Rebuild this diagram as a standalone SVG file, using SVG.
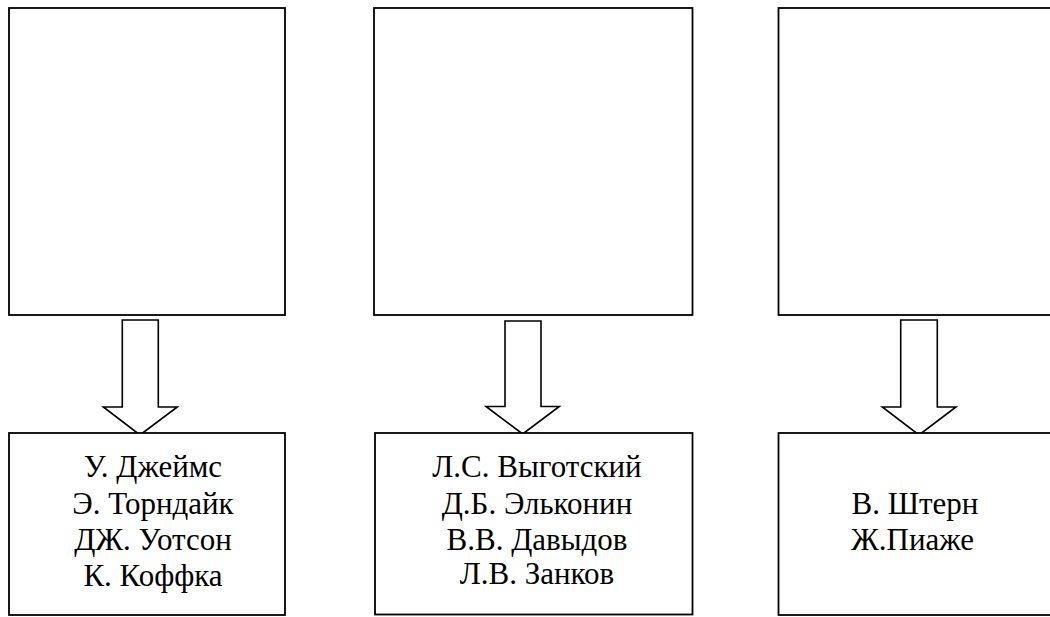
<svg xmlns="http://www.w3.org/2000/svg" width="1050" height="617" viewBox="0 0 1050 617">
<style>
.box{fill:#fff;stroke:#000;stroke-width:1.8}
.arr{fill:#fff;stroke:#000;stroke-width:1.6;stroke-linejoin:miter}
.t{font-family:"Liberation Serif","Times New Roman",serif;font-size:31px;fill:#000}
.c{text-anchor:middle}
</style>
<rect width="1050" height="617" fill="#fff"/>
<g id="top1"><rect class="box" x="9" y="8" width="276" height="307"/></g>
<g id="top2"><rect class="box" x="374" y="8" width="318.5" height="307"/></g>
<g id="top3"><rect class="box" x="778.5" y="8" width="290" height="307"/></g>
<g id="connectors">
<path class="arr" d="M122.3 320 H158.3 V407 H177.3 L140 435 L103.3 407 H122.3 Z"/>
<path class="arr" d="M505 321 H541 V406.5 H559.3 L522.7 434 L486 406.5 H505 Z"/>
<path class="arr" d="M900.7 320 H937.3 V407 H956 L919 435 L882.3 407 H900.7 Z"/>
</g>
<g id="bot1"><rect class="box" x="9" y="433" width="276" height="182"/>
<text class="t c" x="153" y="477">У. Джеймс</text>
<text class="t c" x="153" y="513.5">Э. Торндайк</text>
<text class="t c" x="153" y="550">ДЖ. Уотсон</text>
<text class="t c" x="153" y="585.5">К. Коффка</text>
</g>
<g id="bot2"><rect class="box" x="375" y="433" width="317.5" height="181.5"/>
<text class="t c" x="537" y="477">Л.С. Выготский</text>
<text class="t c" x="537" y="513.5">Д.Б. Эльконин</text>
<text class="t c" x="537" y="550">В.В. Давыдов</text>
<text class="t c" x="537" y="584">Л.В. Занков</text>
</g>
<g id="bot3"><rect class="box" x="778.5" y="433" width="290" height="182"/>
<text class="t" x="851.5" y="513.5">В. Штерн</text>
<text class="t" x="851" y="550">Ж.Пиаже</text>
</g>
</svg>
